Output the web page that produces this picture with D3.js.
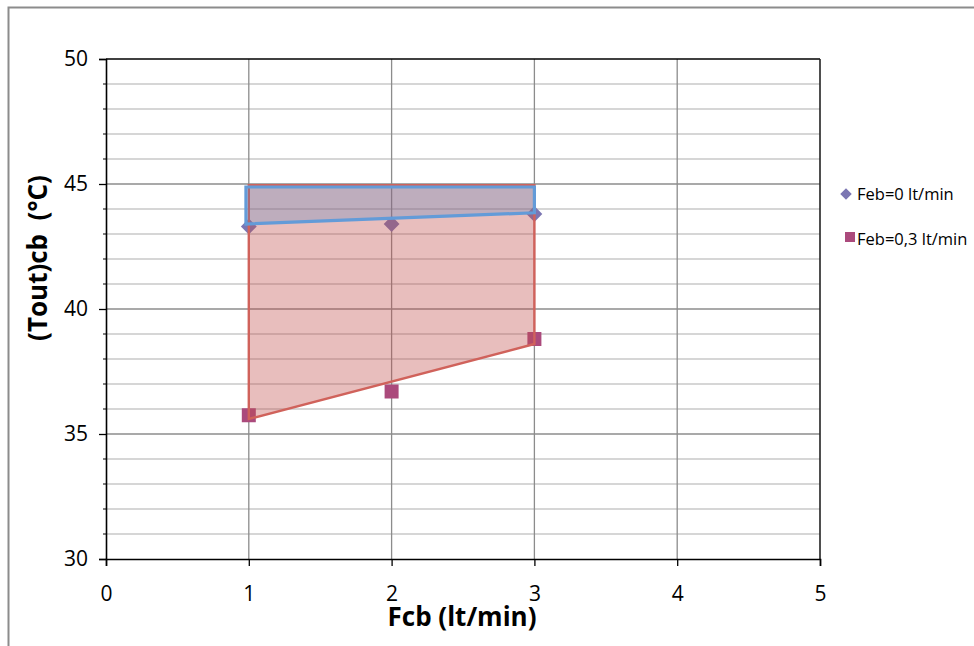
<!DOCTYPE html>
<html><head><meta charset="utf-8">
<script src="https://cdn.jsdelivr.net/npm/d3@7"></script>
<style>body{margin:0;background:#fff}svg{display:block}text{font-family:"Open Sans",sans-serif}</style>
</head><body>
<svg id="c" width="974" height="646"></svg>
<script>
const xValues = [1, 2, 3];
const feb0 = [43.3, 43.4, 43.8];
const feb03 = [35.75, 36.7, 38.8];
const seriesNames = ["Feb=0 lt/min", "Feb=0,3 lt/min"];
const xTicks = [0, 1, 2, 3, 4, 5];
const yTicks = [30, 35, 40, 45, 50];
const yMinor = d3.range(30, 51, 1);
// shaded envelopes (data units)
const redRegion = [[1, 44.95], [3, 44.95], [3, 38.6], [1, 35.6]];
const blueRegion = [[0.98, 44.88], [3, 44.88], [3, 43.85], [0.98, 43.4]];

const svg = d3.select("#c");
const L = 106, R = 820, T = 59, B = 559;
const x = d3.scaleLinear().domain([0, 5]).range([L, R]);
const y = d3.scaleLinear().domain([30, 50]).range([B, T]);

// outer frame
svg.append("rect").attr("x", 8.5).attr("y", 7.5).attr("width", 980).attr("height", 700)
  .attr("fill", "none").attr("stroke", "#8c8c8c").attr("stroke-width", 2);

// horizontal minor grid
svg.append("g").selectAll("line").data(yMinor.filter(v => v % 5 !== 0)).join("line")
  .attr("x1", L).attr("x2", R).attr("y1", d => y(d)).attr("y2", d => y(d))
  .attr("stroke", "#c8c8c8").attr("stroke-width", 1.3);
// horizontal major grid
svg.append("g").selectAll("line").data(yTicks.slice(1, -1)).join("line")
  .attr("x1", L).attr("x2", R).attr("y1", d => y(d)).attr("y2", d => y(d))
  .attr("stroke", "#8c8c8c").attr("stroke-width", 1.3);
// vertical grid
svg.append("g").selectAll("line").data(xTicks.slice(1, -1)).join("line")
  .attr("y1", T).attr("y2", B).attr("x1", d => x(d)).attr("x2", d => x(d))
  .attr("stroke", "#8c8c8c").attr("stroke-width", 1.3);

// markers (drawn beneath the shaded regions)
const sym = d3.symbol();
svg.append("g").selectAll("path").data(xValues).join("path")
  .attr("transform", (d, i) => `translate(${x(d)},${y(feb0[i])})`)
  .attr("d", sym.type(d3.symbolDiamond2).size(160)())
  .attr("fill", "#7b76b2");
svg.append("g").selectAll("rect").data(xValues).join("rect")
  .attr("x", d => x(d) - 7).attr("y", (d, i) => y(feb03[i]) - 7)
  .attr("width", 14).attr("height", 14).attr("fill", "#ab4a7c");

const line = d3.line().x(d => x(d[0])).y(d => y(d[1])).curve(d3.curveLinearClosed);
svg.append("path").attr("d", line(redRegion))
  .attr("fill", "rgba(192,80,77,0.37)").attr("stroke", "#d0625b").attr("stroke-width", 2.4);
svg.append("path").attr("d", line(blueRegion))
  .attr("fill", "rgba(79,129,189,0.27)").attr("stroke", "#639bd8").attr("stroke-width", 3.2);

// plot border (top/right) and axes
svg.append("line").attr("x1", L).attr("x2", R).attr("y1", T).attr("y2", T).attr("stroke", "#000").attr("stroke-width", 1.6);
svg.append("line").attr("x1", R).attr("x2", R).attr("y1", T).attr("y2", B).attr("stroke", "#222").attr("stroke-width", 1.6);

const yAxis = d3.axisLeft(y).tickValues(yTicks).tickSize(7).tickPadding(11).tickFormat(d3.format("d"));
const gy = svg.append("g").attr("transform", `translate(${L},0)`).call(yAxis);
gy.append("g").selectAll("line").data(yMinor.filter(v => v % 5 !== 0)).join("line")
  .attr("x1", -3).attr("x2", 0).attr("y1", d => y(d)).attr("y2", d => y(d)).attr("stroke", "#000");
const xAxis = d3.axisBottom(x).tickValues(xTicks).tickSize(7).tickPadding(20).tickFormat(d3.format("d"));
const gx = svg.append("g").attr("transform", `translate(0,${B})`).call(xAxis);
[gx, gy].forEach(g => {
  g.select(".domain").attr("stroke", "#000").attr("stroke-width", 1.6);
  g.selectAll(".tick line").attr("stroke", "#000").attr("stroke-width", 1.3);
  g.selectAll("text").attr("font-size", 21).attr("fill", "#000").attr("font-family", "'Open Sans', sans-serif");
});

// axis titles
svg.append("text").attr("x", 462).attr("y", 626).attr("text-anchor", "middle")
  .attr("font-size", 26).attr("font-weight", "bold").text("Fcb (lt/min)");
svg.append("text").attr("transform", "translate(47,258) rotate(-90)").attr("text-anchor", "middle")
  .attr("font-size", 26).attr("font-weight", "bold").attr("xml:space", "preserve").text("(Tout)cb  (°C)");

// legend
const lg = svg.append("g");
lg.append("path").attr("transform", "translate(846,194)").attr("d", sym.type(d3.symbolDiamond2).size(85)()).attr("fill", "#7b76b2");
lg.append("rect").attr("x", 845).attr("y", 232).attr("width", 10).attr("height", 10).attr("fill", "#ab4a7c");
lg.selectAll("text").data(seriesNames).join("text")
  .attr("x", 857).attr("y", (d, i) => 200 + i * 45).attr("font-size", 16.5).attr("fill", "#000").text(d => d);
</script>
</body></html>
